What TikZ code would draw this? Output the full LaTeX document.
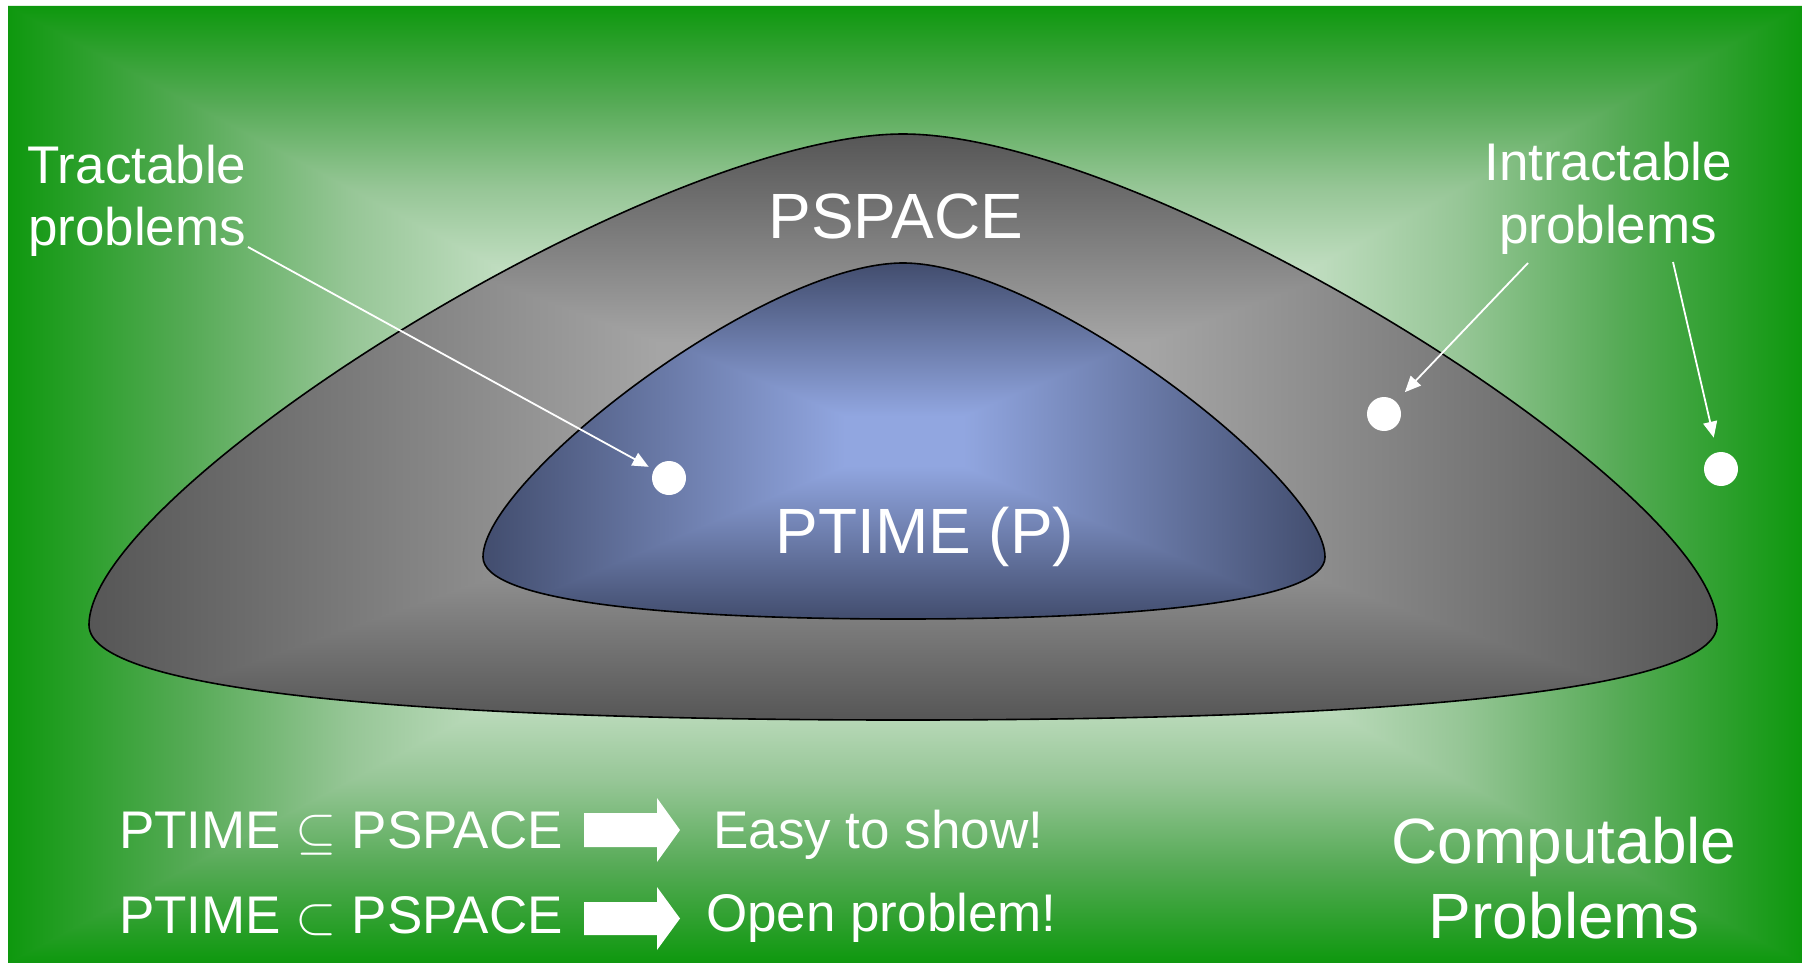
\documentclass[tikz,border=0pt]{standalone}
\usepackage{fontspec}
\usepackage{unicode-math}
\setmainfont{Liberation Sans}
\setmathfont{Latin Modern Math}
\usetikzlibrary{arrows.meta}

\definecolor{bgout}{RGB}{14,152,14}
\definecolor{bgin}{RGB}{228,240,228}
\definecolor{bgmida}{RGB}{205,228,205}
\definecolor{bgmidb}{RGB}{150,198,150}
\definecolor{bgmidc}{RGB}{85,170,85}
\definecolor{grin}{RGB}{172,172,172}
\definecolor{grmid}{RGB}{165,165,165}
\definecolor{grout}{RGB}{86,86,86}
\definecolor{blin}{RGB}{145,166,224}
\definecolor{blout}{RGB}{66,77,110}

% fades from a light centre (25bp) to a dark rim (75bp)
\pgfdeclareverticalshading{bgfade}{100bp}{color(0bp)=(bgin); color(25bp)=(bgin); color(45bp)=(bgmida); color(56bp)=(bgmidb); color(65bp)=(bgmidc); color(75bp)=(bgout); color(100bp)=(bgout)}
\pgfdeclareverticalshading{grayfade}{100bp}{color(0bp)=(grin); color(25bp)=(grin); color(40bp)=(grmid); color(75bp)=(grout); color(100bp)=(grout)}
\pgfdeclareverticalshading{bluefade}{100bp}{color(0bp)=(blin); color(25bp)=(blin); color(32bp)=(blin); color(75bp)=(blout); color(100bp)=(blout)}

% rectangular "from centre" fill: x1 y1 x2 y2 cx cy shading
\newcommand\rectfade[7]{%
  \path[shading=#7,shading angle=90] (#1,#2) -- (#5,#6) -- (#1,#4) -- cycle;
  \path[shading=#7,shading angle=270] (#3,#2) -- (#5,#6) -- (#3,#4) -- cycle;
  \path[shading=#7] (#1-1.5,#2) -- (#3+1.5,#2) -- (#5+1.5,#6) -- (#5-1.5,#6) -- cycle;
  \path[shading=#7,shading angle=180] (#1-1.5,#4) -- (#3+1.5,#4) -- (#5+1.5,#6) -- (#5-1.5,#6) -- cycle;
}

\newcommand\psparea{(89,625) .. controls (89,490) and (656,134) .. (903,134)
  .. controls (1150,134) and (1717,490) .. (1717,625)
  .. controls (1717,690) and (1400,720) .. (903,720)
  .. controls (406,720) and (89,690) .. (89,625) -- cycle}
\newcommand\ptmarea{(483,557) .. controls (483,480) and (763,263) .. (903,263)
  .. controls (1043,263) and (1325,480) .. (1325,557)
  .. controls (1325,600) and (1150,619) .. (903,619)
  .. controls (656,619) and (483,600) .. (483,557) -- cycle}

\begin{document}
\begin{tikzpicture}[x=1pt,y=-1pt,
  lbl/.style={text=white, inner sep=0pt, anchor=base},
  small/.style={font=\fontsize{53}{60}\selectfont},
  big/.style={font=\fontsize{64}{72}\selectfont},
  rim/.style={draw=black, line width=1.6pt},
  dot/.style={circle, fill=white, minimum size=34pt, inner sep=0pt},
  ptr/.style={draw=white, line width=1.8pt, -{Triangle[length=16pt,width=14pt]}},
  blockarrow/.style={fill=white}]
\useasboundingbox (0,0) rectangle (1802,963);
\fill[white] (0,0) rectangle (1802,963);

% green background
\begin{scope}
  \clip (8,6) rectangle (1802,963);
  \rectfade{8}{6}{1802}{963}{905}{484.5}{bgfade}
\end{scope}

% PSPACE region
\begin{scope}
  \clip \psparea;
  \rectfade{89}{134}{1717}{720}{903}{432}{grayfade}
\end{scope}
\draw[rim] \psparea;

% PTIME region
\begin{scope}
  \clip \ptmarea;
  \rectfade{483}{263}{1325}{619}{904}{441}{bluefade}
\end{scope}
\draw[rim] \ptmarea;

% labels
\node[lbl,big] (psp) at (896,238) {PSPACE};
\node[lbl,big] (ptm) at (925,553) {PTIME (P)};
\node[lbl,small] (tr1) at (137,183) {Tractable};
\node[lbl,small] (tr2) at (137,245) {problems};
\node[lbl,small] (in1) at (1608,180) {Intractable};
\node[lbl,small] (in2) at (1608,243) {problems};
\node[lbl,big] (cp1) at (1564,863) {Computable};
\node[lbl,big] (cp2) at (1564,938) {Problems};
\node[lbl,small,anchor=base west] (eq1) at (119,848) {PTIME $\subseteq$ PSPACE};
\node[lbl,small,anchor=base west] (eq2) at (119,933) {PTIME $\subset$ PSPACE};
\node[lbl,small,anchor=base west] (res1) at (713,848) {Easy to show!};
\node[lbl,small,anchor=base west] (res2) at (706,931) {Open problem!};

% sample problems
\node[dot] (d1) at (669,478) {};
\node[dot] (d2) at (1384,414) {};
\node[dot] (d3) at (1721,469) {};

\coordinate (s1) at (248,247);
\coordinate (s2) at (1528,263);
\coordinate (s3) at (1673,262);
\draw[ptr, shorten >=6pt] (s1) -- (d1);
\draw[ptr, shorten >=13pt] (s2) -- (d2);
\draw[ptr, shorten >=15pt] (s3) -- (d3);

% block arrows
\fill[blockarrow] (584,813) -- (657,813) -- (657,798) -- (680,830) -- (657,862) -- (657,847) -- (584,847) -- cycle;
\fill[blockarrow] (584,902) -- (657,902) -- (657,887) -- (680,918.5) -- (657,950) -- (657,935) -- (584,935) -- cycle;
\end{tikzpicture}
\end{document}
